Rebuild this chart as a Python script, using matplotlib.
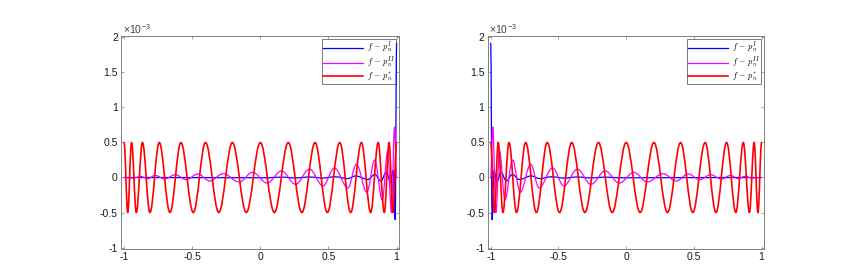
"""Error curves f - p_n for three approximations, left and right endpoint versions."""
import matplotlib
matplotlib.use("Agg")
import matplotlib.pyplot as plt
from matplotlib.path import Path
from matplotlib.patches import PathPatch
from matplotlib.lines import Line2D

plt.rcParams["font.family"] = ["Liberation Sans", "DejaVu Sans"]
plt.rcParams["mathtext.fontset"] = "cm"
plt.rcParams["axes.unicode_minus"] = False

# extrema of each error curve (x, value in units of 1e-3);
# the right panel is the mirror image x -> -x
red_x = [-1.0, -0.973, -0.945, -0.91, -0.865, -0.81, -0.742, -0.663, -0.583, -0.492,
         -0.402, -0.305, -0.205, -0.103, 0.0, 0.103, 0.205, 0.305, 0.402, 0.492,
         0.583, 0.663, 0.742, 0.81, 0.865, 0.91, 0.945, 0.973, 1.0]
red_y = [0.5, -0.5, 0.5, -0.5, 0.5, -0.5, 0.5, -0.5, 0.5, -0.5,
         0.5, -0.5, 0.5, -0.5, 0.5, -0.5, 0.5, -0.5, 0.5, -0.5,
         0.5, -0.5, 0.5, -0.5, 0.5, -0.5, 0.5, -0.5, 0.5]

mag_x = [-1.0, -0.93, -0.878, -0.829, -0.771, -0.702, -0.624, -0.544, -0.458, -0.37,
         -0.273, -0.155, -0.057, 0.05, 0.155, 0.26, 0.36, 0.46, 0.543, 0.643,
         0.705, 0.782, 0.839, 0.895, 0.935, 0.962, 0.985, 1.0]
mag_y = [0.0, -0.008, 0.017, -0.017, 0.03, -0.022, 0.04, -0.031, 0.05, -0.05,
         0.055, -0.064, 0.074, -0.079, 0.093, -0.098, 0.12, -0.12, 0.135, -0.15,
         0.19, -0.21, 0.25, -0.32, 0.38, -0.5, 0.72, 0.0]

blue_x = [-1.0, 0.05, 0.15, 0.26, 0.36, 0.46, 0.55, 0.64, 0.70, 0.79,
          0.84, 0.885, 0.925, 0.955, 0.975, 0.99, 1.0]
blue_y = [0.0, -0.004, 0.005, -0.006, 0.007, -0.008, 0.01, -0.015, 0.022, -0.028,
          0.045, -0.05, 0.08, -0.07, 0.1, -0.6, 1.92]

series = [
    (blue_x, blue_y, "#0000ff", 0.9, r"$f\,-\,p_n^{I}$"),
    (mag_x, mag_y, "#ff00ff", 0.9, r"$f\,-\,p_n^{II}$"),
    (red_x, red_y, "#ff0000", 1.2, r"$f\,-\,p_n^{*}$"),
]

x_ticks = [-1, -0.5, 0, 0.5, 1]
x_tick_labels = ["-1", "-0.5", "0", "0.5", "1"]
y_ticks = [-1, -0.5, 0, 0.5, 1, 1.5, 2]
y_tick_labels = ["-1", "-0.5", "0", "0.5", "1", "1.5", "2"]


def wave_path(xs, ys, k=0.363):
    # smooth half-wave bezier between consecutive extrema (flat tangent at each extremum)
    verts = [(xs[0], ys[0])]
    codes = [Path.MOVETO]
    for i in range(1, len(xs)):
        dx = xs[i] - xs[i - 1]
        verts += [(xs[i - 1] + k * dx, ys[i - 1]), (xs[i] - k * dx, ys[i]), (xs[i], ys[i])]
        codes += [Path.CURVE4] * 3
    return Path(verts, codes)


def draw_panel(ax, mirror):
    handles = []
    for xs, ys, color, lw, label in series:
        px = [-x for x in xs] if mirror else list(xs)
        patch = PathPatch(wave_path(px, ys), facecolor="none", edgecolor=color,
                          lw=lw, joinstyle="round", capstyle="round", zorder=6)
        ax.add_patch(patch)
        handles.append(Line2D([], [], color=color, lw=lw, label=label))

    ax.set_xlim(-1.02, 1.02)
    ax.set_ylim(-1.015, 2.02)
    ax.set_xticks(x_ticks)
    ax.set_xticklabels(x_tick_labels)
    ax.set_yticks(y_ticks)
    ax.set_yticklabels(y_tick_labels)
    ax.tick_params(direction="in", length=2, width=0.5, labelsize=7.5, pad=2.5,
                   top=True, right=True, colors="0.5", labelcolor="0.1")
    for sp in ax.spines.values():
        sp.set_color("0.5")
        sp.set_linewidth(0.7)
    ax.text(0.005, 1.0, "×10$^{\\mathregular{-3}}$", transform=ax.transAxes, fontsize=7.5,
            ha="left", va="bottom", color="0.25")

    leg = ax.legend(handles=handles, loc="upper right", fontsize=6,
                    handlelength=4.8, handletextpad=0.5, labelspacing=0.0,
                    borderpad=0.15, borderaxespad=0.35, fancybox=False, framealpha=1)
    leg.get_frame().set_edgecolor("0.4")
    leg.get_frame().set_linewidth(0.6)


fig = plt.figure(figsize=(8.58, 2.77), dpi=100)
ax_left = fig.add_axes([0.1414, 0.1027, 0.324, 0.767])
ax_right = fig.add_axes([0.5688, 0.1027, 0.322, 0.767])
draw_panel(ax_left, mirror=False)
draw_panel(ax_right, mirror=True)

fig.savefig("out.png", dpi=100)
